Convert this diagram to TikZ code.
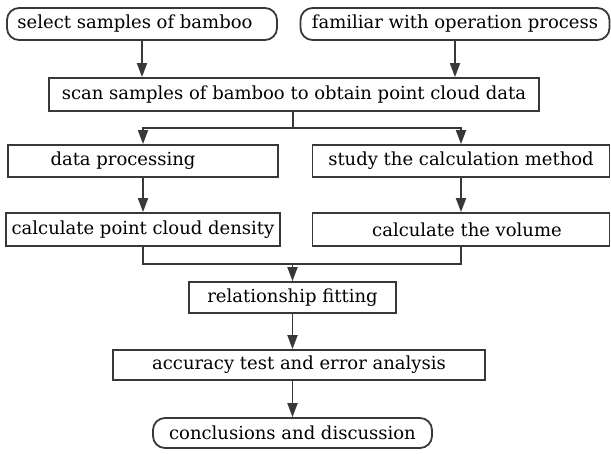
\documentclass[tikz,border=0pt]{standalone}
\usepackage{fontspec}
\setmainfont{DejaVu Serif}
\usetikzlibrary{arrows.meta,calc}
\definecolor{ink}{HTML}{383838}
\begin{document}
\begin{tikzpicture}[x=1pt,y=-1pt,
  every node/.style={font=\fontsize{18}{21}\selectfont, text=black, inner sep=0pt},
  box/.style={draw=ink, line width=1.8pt, rectangle, minimum width=#1},
  rbox/.style={draw=ink, line width=1.8pt, rectangle, rounded corners=12pt, minimum width=#1},
  arr/.style={draw=ink, line width=1.8pt, -{Triangle[length=14pt,width=10pt]}},
  ln/.style={draw=ink, line width=1.8pt}]
\useasboundingbox (0,0) rectangle (611,453);

% boxes (some labels sit a little left of their box centre)
\node[rbox=270, minimum height=32] (sel)   at (142,24)    {select samples of bamboo\hspace*{14pt}};
\node[rbox=309, minimum height=32] (fam)   at (455,24)    {familiar with operation process};
\node[box=490, minimum height=33]  (scan)  at (294,94.5)  {scan samples of bamboo to obtain point cloud data};
\node[box=270, minimum height=32]  (dp)    at (143,161)   {data processing\hspace*{40pt}};
\node[box=297, minimum height=32]  (study) at (461,161)   {study the calculation method};
\node[box=274, minimum height=33]  (dens)  at (143,229.5) {calculate point cloud density};
\node[box=297, minimum height=33]  (vol)   at (461,229.5) {\hspace*{12pt}calculate the volume};
\node[box=207, minimum height=31]  (rel)   at (292.5,297.5) {relationship fitting};
\node[box=372, minimum height=30]  (acc)   at (299,365)   {accuracy test and error analysis};
\node[rbox=279, minimum height=30] (conc)  at (292.5,433) {conclusions and discussion};

% junction points
\coordinate (br) at (293,128);
\coordinate (mg) at (292.5,264);

% connectors
\draw[arr] (sel.south) -- (sel.south |- scan.north);
\draw[arr] (fam.south) -- (fam.south |- scan.north);
\draw[ln] (scan.south -| br) -- (br);
\draw[arr] (br) -| (dp.north);
\draw[arr] (br) -| (study.north);
\draw[arr] (dp) -- (dens);
\draw[arr] (study) -- (vol);
\draw[ln] (dens.south) |- (mg) -| (vol.south);
\draw[arr] (mg) -- (rel.north);
\draw[arr] (rel.south) -- (rel.south |- acc.north);
\draw[arr] (acc.south -| rel) -- (conc.north -| rel);
\end{tikzpicture}
\end{document}
